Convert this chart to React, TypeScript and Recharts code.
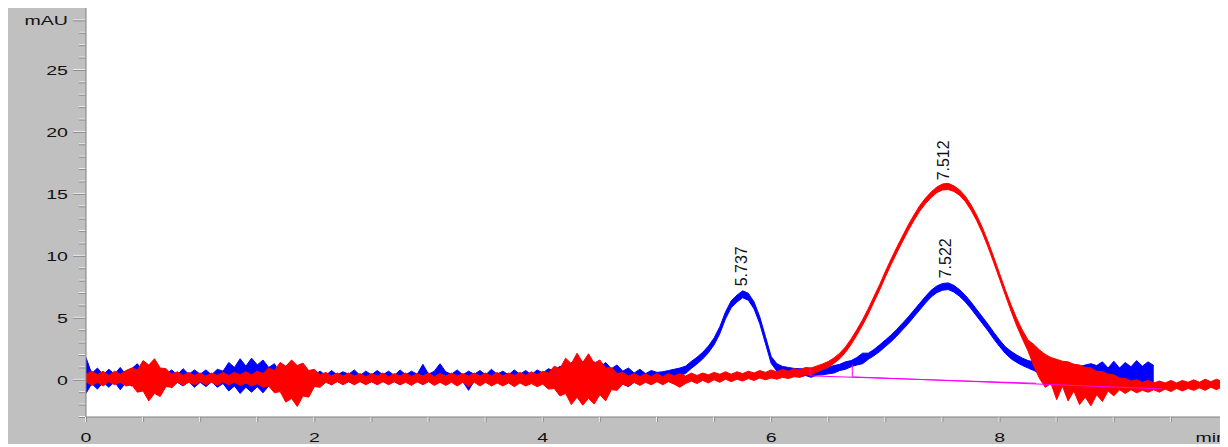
import React from 'react';
import { ComposedChart, Area, Line, XAxis, YAxis, CartesianGrid, ReferenceDot } from 'recharts';

// ---- data (minutes / mAU) ----
const redTime = [
  0, 0.05, 0.1, 0.15, 0.2, 0.25, 0.3, 0.35, 0.4, 0.45, 0.5, 0.55, 0.6, 0.65, 0.7, 0.75, 0.8, 0.85, 0.9, 0.95,
  1, 1.05, 1.1, 1.15, 1.2, 1.25, 1.3, 1.35, 1.4, 1.45, 1.5, 1.55, 1.6, 1.65, 1.7, 1.75, 1.8, 1.85, 1.9, 1.95,
  2, 2.05, 2.1, 2.15, 2.2, 2.25, 2.3, 2.35, 2.4, 2.45, 2.5, 2.55, 2.6, 2.65, 2.7, 2.75, 2.8, 2.85, 2.9, 2.95,
  3, 3.05, 3.1, 3.15, 3.2, 3.25, 3.3, 3.35, 3.4, 3.45, 3.5, 3.55, 3.6, 3.65, 3.7, 3.75, 3.8, 3.85, 3.9, 3.95,
  4, 4.05, 4.1, 4.15, 4.2, 4.25, 4.3, 4.35, 4.4, 4.45, 4.5, 4.55, 4.6, 4.65, 4.7, 4.75, 4.8, 4.85, 4.9, 4.95,
  5, 5.05, 5.1, 5.15, 5.2, 5.25, 5.3, 5.35, 5.4, 5.45, 5.5, 5.55, 5.6, 5.65, 5.7, 5.75, 5.8, 5.85, 5.9, 5.95,
  6, 6.05, 6.1, 6.15, 6.2, 6.25, 6.3, 6.35, 6.4, 6.45, 6.5, 6.55, 6.6, 6.65, 6.7, 6.75, 6.8, 6.85, 6.9, 6.95,
  7, 7.05, 7.1, 7.15, 7.2, 7.25, 7.3, 7.35, 7.4, 7.45, 7.5, 7.55, 7.6, 7.65, 7.7, 7.75, 7.8, 7.85, 7.9, 7.95,
  8, 8.05, 8.1, 8.15, 8.2, 8.25, 8.3, 8.35, 8.4, 8.45, 8.5, 8.55, 8.6, 8.65, 8.7, 8.75, 8.8, 8.85, 8.9, 8.95,
  9, 9.05, 9.1, 9.15, 9.2, 9.25, 9.3, 9.35, 9.4, 9.45, 9.5, 9.55, 9.6, 9.65, 9.7, 9.75, 9.8, 9.85, 9.9, 9.95,
  10,
];
const redLow = [
  -0.15, -0.45, -0.2, -0.5, -0.15, -0.4, -0.2, -0.5, -0.4, -1.0, -0.9, -1.7, -1.1, -1.35, -0.55, -0.6, -0.15, -0.45, -0.2, -0.4,
  -0.15, -0.4, -0.2, -0.45, -0.15, -0.4, -0.2, -0.45, -0.25, -0.5, -0.3, -0.6, -0.5, -1.05, -0.95, -1.8, -1.5, -2.15, -1.3, -1.4,
  -0.55, -0.6, -0.2, -0.4, -0.15, -0.4, -0.15, -0.4, -0.15, -0.4, -0.15, -0.4, -0.15, -0.4, -0.15, -0.4, -0.2, -0.45, -0.15, -0.4,
  -0.15, -0.45, -0.2, -0.45, -0.2, -0.5, -0.2, -0.55, -0.2, -0.5, -0.2, -0.5, -0.25, -0.5, -0.25, -0.55, -0.25, -0.5, -0.3, -0.55,
  -0.35, -0.75, -0.7, -1.3, -1.1, -2.0, -1.4, -2.05, -1.5, -1.95, -1.2, -1.7, -0.8, -0.85, -0.35, -0.5, -0.2, -0.45, -0.2, -0.4,
  -0.15, -0.4, -0.15, -0.35, -0.6, -0.3, -0.1, -0.3, -0.05, -0.25, 0.0, -0.2, 0.05, -0.15, 0.05, -0.1, 0.1, -0.05, 0.15, 0.0,
  0.15, 0.05, 0.2, 0.1, 0.25, 0.2, 0.4, 0.4, 0.62, 0.82, 1.02, 1.33, 1.7, 2.2, 2.85, 3.6, 4.4, 5.3, 6.28, 7.25,
  8.3, 9.3, 10.25, 11.15, 12.05, 12.85, 13.6, 14.2, 14.7, 15.1, 15.32, 15.35, 15.2, 14.88, 14.38, 13.68, 12.83, 11.83, 10.68, 9.43,
  8.13, 6.83, 5.55, 4.35, 3.3, 2.3, 1.1, 0.1, -0.6, -0.3, -1.6, -0.5, -1.7, -0.9, -2.0, -1.4, -2.1, -1.2, -1.75, -0.9,
  -1.3, -0.8, -1.1, -0.8, -1.05, -0.85, -1.0, -0.8, -1.0, -0.75, -0.95, -0.7, -0.9, -0.7, -0.85, -0.65, -0.85, -0.6, -0.8, -0.55,
  -0.75,
];
const redHigh = [
  0.45, 0.7, 0.4, 0.7, 0.35, 0.7, 0.45, 0.75, 0.95, 0.8, 1.55, 1.2, 1.7, 0.95, 0.9, 0.45, 0.65, 0.35, 0.6, 0.35,
  0.55, 0.3, 0.55, 0.35, 0.6, 0.35, 0.6, 0.4, 0.65, 0.4, 0.7, 0.5, 0.95, 0.75, 1.4, 1.1, 1.6, 1.15, 1.35, 0.75,
  0.85, 0.4, 0.6, 0.3, 0.55, 0.3, 0.55, 0.3, 0.5, 0.25, 0.5, 0.3, 0.55, 0.25, 0.5, 0.3, 0.55, 0.25, 0.5, 0.3,
  0.55, 0.25, 0.5, 0.3, 0.55, 0.3, 0.5, 0.3, 0.55, 0.3, 0.55, 0.3, 0.6, 0.3, 0.55, 0.35, 0.6, 0.35, 0.65, 0.4,
  0.7, 0.55, 1.1, 0.9, 1.75, 1.3, 2.15, 1.4, 2.1, 1.35, 1.6, 0.95, 1.0, 0.5, 0.6, 0.3, 0.5, 0.25, 0.5, 0.25,
  0.5, 0.25, 0.5, 0.3, 0.5, 0.3, 0.55, 0.35, 0.55, 0.4, 0.6, 0.45, 0.65, 0.45, 0.65, 0.5, 0.7, 0.55, 0.75, 0.6,
  0.8, 0.65, 0.85, 0.7, 0.9, 0.8, 1.0, 0.95, 1.12, 1.28, 1.48, 1.77, 2.15, 2.65, 3.3, 4.05, 4.85, 5.75, 6.72, 7.7,
  8.75, 9.75, 10.7, 11.6, 12.5, 13.3, 14.05, 14.65, 15.15, 15.55, 15.8, 15.85, 15.65, 15.32, 14.82, 14.12, 13.27, 12.27, 11.12, 9.87,
  8.57, 7.27, 6.05, 4.95, 4.0, 3.2, 2.85, 2.4, 2.05, 1.8, 1.65, 1.5, 1.45, 1.25, 1.2, 1.0, 0.95, 0.7, 0.65, 0.45,
  0.4, 0.15, 0.1, -0.1, 0.0, -0.2, -0.05, -0.25, -0.1, -0.25, -0.05, -0.25, -0.05, -0.2, 0.0, -0.2, 0.05, -0.15, 0.05, -0.15,
  0.05,
];

const blueTime = [
  0, 0.05, 0.1, 0.15, 0.2, 0.25, 0.3, 0.35, 0.4, 0.45, 0.5, 0.55, 0.6, 0.65, 0.7, 0.75, 0.8, 0.85, 0.9, 0.95,
  1, 1.05, 1.1, 1.15, 1.2, 1.25, 1.3, 1.35, 1.4, 1.45, 1.5, 1.55, 1.6, 1.65, 1.7, 1.75, 1.8, 1.85, 1.9, 1.95,
  2, 2.05, 2.1, 2.15, 2.2, 2.25, 2.3, 2.35, 2.4, 2.45, 2.5, 2.55, 2.6, 2.65, 2.7, 2.75, 2.8, 2.85, 2.9, 2.95,
  3, 3.05, 3.1, 3.15, 3.2, 3.25, 3.3, 3.35, 3.4, 3.45, 3.5, 3.55, 3.6, 3.65, 3.7, 3.75, 3.8, 3.85, 3.9, 3.95,
  4, 4.05, 4.1, 4.15, 4.2, 4.25, 4.3, 4.35, 4.4, 4.45, 4.5, 4.55, 4.6, 4.65, 4.7, 4.75, 4.8, 4.85, 4.9, 4.95,
  5, 5.05, 5.1, 5.15, 5.2, 5.25, 5.3, 5.35, 5.4, 5.45, 5.5, 5.55, 5.6, 5.65, 5.7, 5.75, 5.8, 5.85, 5.9, 5.95,
  6, 6.05, 6.1, 6.15, 6.2, 6.25, 6.3, 6.35, 6.4, 6.45, 6.5, 6.55, 6.6, 6.65, 6.7, 6.75, 6.8, 6.85, 6.9, 6.95,
  7, 7.05, 7.1, 7.15, 7.2, 7.25, 7.3, 7.35, 7.4, 7.45, 7.5, 7.55, 7.6, 7.65, 7.7, 7.75, 7.8, 7.85, 7.9, 7.95,
  8, 8.05, 8.1, 8.15, 8.2, 8.25, 8.3, 8.35, 8.4, 8.45, 8.5, 8.55, 8.6, 8.65, 8.7, 8.75, 8.8, 8.85, 8.9, 8.95,
  9, 9.05, 9.1, 9.15, 9.2, 9.25, 9.3, 9.35,
];
const blueLow = [
  -1.1, -0.3, -0.75, -0.2, -0.6, -0.15, -0.8, -0.2, -0.5, -0.15, -0.3, -0.7, -0.2, -0.55, -0.15, -0.65, -0.2, -0.5, -0.15, -0.6,
  -0.2, -0.55, -0.15, -0.6, -0.3, -0.9, -0.5, -1.1, -0.6, -1.0, -0.55, -1.05, -0.5, -0.85, -0.2, -0.5, -0.15, -0.45, -0.15, -0.4,
  -0.15, -0.35, -0.1, -0.4, -0.1, -0.3, -0.15, -0.35, -0.1, -0.3, -0.15, -0.35, -0.1, -0.3, -0.15, -0.4, -0.1, -0.3, -0.15, -0.35,
  -0.1, -0.35, -0.15, -0.3, -0.1, -0.4, -0.15, -0.85, -0.1, -0.35, -0.15, -0.3, -0.1, -0.4, -0.15, -0.35, -0.1, -0.3, -0.15, -0.35,
  -0.2, -0.45, -0.4, -0.8, -0.6, -1.1, -0.7, -1.0, -0.75, -1.15, -0.7, -1.0, -0.55, -0.8, -0.35, -0.55, -0.2, -0.4, -0.15, -0.35,
  0.0, 0.05, 0.15, 0.25, 0.35, 0.5, 0.92, 1.28, 1.68, 2.18, 2.82, 3.72, 4.92, 5.82, 6.27, 6.62, 6.42, 5.72, 4.52, 2.92,
  1.32, 0.7, 0.52, 0.38, 0.4, 0.22, 0.35, 0.2, 0.38, 0.4, 0.48, 0.55, 0.75, 0.85, 1.05, 1.2, 1.3, 1.65, 1.95, 2.28,
  2.68, 3.08, 3.53, 4.03, 4.53, 5.08, 5.63, 6.18, 6.68, 7.03, 7.23, 7.28, 7.08, 6.73, 6.28, 5.73, 5.13, 4.53, 3.93, 3.28,
  2.68, 2.13, 1.7, 1.4, 1.15, 0.95, 0.75, 0.55, 0.5, 0.3, 0.35, 0.1, 0.2, -0.1, 0.05, -0.25, -0.05, -0.4, -0.3, -0.2,
  -0.5, -0.2, -0.45, -0.15, -0.5, -0.25, -0.45, -0.3,
];
const blueHigh = [
  1.8, 0.5, 0.95, 0.4, 0.85, 0.45, 1.0, 0.4, 0.9, 1.3, 0.5, 0.85, 0.4, 0.95, 0.45, 0.8, 0.4, 0.9, 0.45, 0.8,
  0.45, 0.8, 0.4, 0.85, 0.7, 1.4, 1.0, 1.7, 1.1, 1.75, 1.2, 1.6, 1.0, 1.3, 0.5, 0.75, 0.4, 0.7, 0.45, 0.65,
  0.4, 0.7, 0.35, 0.75, 0.4, 0.65, 0.45, 0.8, 0.35, 0.7, 0.4, 0.75, 0.4, 0.7, 0.35, 0.8, 0.4, 0.7, 0.45, 1.25,
  0.45, 0.7, 1.3, 0.65, 0.45, 0.8, 0.4, 0.7, 0.45, 0.75, 0.4, 0.85, 0.45, 0.7, 0.4, 0.8, 0.45, 0.75, 0.4, 0.8,
  0.55, 0.9, 0.7, 1.1, 0.9, 1.4, 1.0, 1.5, 1.05, 1.45, 1.0, 1.4, 0.9, 1.2, 0.7, 0.95, 0.55, 0.85, 0.5, 0.75,
  0.6, 0.65, 0.75, 0.85, 0.95, 1.1, 1.48, 1.82, 2.22, 2.72, 3.38, 4.28, 5.48, 6.38, 6.83, 7.18, 6.98, 6.28, 5.08, 3.48,
  1.88, 1.3, 1.08, 1.0, 0.92, 0.9, 0.85, 0.95, 0.92, 1.0, 1.02, 1.15, 1.25, 1.45, 1.55, 1.8, 2.15, 2.15, 2.45, 2.82,
  3.22, 3.62, 4.07, 4.57, 5.07, 5.62, 6.17, 6.72, 7.22, 7.57, 7.77, 7.82, 7.62, 7.27, 6.82, 6.27, 5.67, 5.07, 4.47, 3.82,
  3.22, 2.67, 2.3, 2.0, 1.75, 1.55, 1.45, 1.4, 1.3, 1.35, 1.2, 1.3, 1.1, 1.25, 1.05, 1.2, 1.3, 1.15, 1.45, 0.95,
  1.5, 0.95, 1.4, 1.05, 1.55, 1.1, 1.45, 1.15,
];

// integration baselines (magenta)
const baseATime = [6.34, 6.34, 8.32];
const baseAValue = [0.89, 0.32, -0.28];
const baseBTime = [6.71, 6.71, 9.42];
const baseBValue = [1.21, 0.24, -0.73];

// peak annotations
const peakTimes = [5.737, 7.512, 7.522];
const peakApex = [7.3, 15.85, 7.95];
const peakLabels = ['5.737', '7.512', '7.522'];

// axes
const xTicks = [0, 0.5, 1, 1.5, 2, 2.5, 3, 3.5, 4, 4.5, 5, 5.5, 6, 6.5, 7, 7.5, 8, 8.5, 9, 9.5, 10];
const xLabelValues = [0, 2, 4, 6, 8, 10];
const xLabelTexts = ['0', '2', '4', '6', '8', 'min'];
const yTicks = [-3, -2, -1, 0, 1, 2, 3, 4, 5, 6, 7, 8, 9, 10, 11, 12, 13, 14, 15, 16, 17, 18, 19, 20, 21, 22, 23, 24, 25, 26, 27, 28, 29];
const yLabelValues = [0, 5, 10, 15, 20, 25, 29];
const yLabelTexts = ['0', '5', '10', '15', '20', '25', 'mAU'];

const redData = redTime.map((t, i) => ({ t, band: [redLow[i], redHigh[i]] }));
const blueData = blueTime.map((t, i) => ({ t, band: [blueLow[i], blueHigh[i]] }));
const baseAData = baseATime.map((t, i) => ({ t, v: baseAValue[i] }));
const baseBData = baseBTime.map((t, i) => ({ t, v: baseBValue[i] }));

const FONT = '"Liberation Sans", Arial, sans-serif';

const YTick = (props: any) => {
  const { x, y, payload } = props;
  const idx = yLabelValues.indexOf(payload.value);
  const major = idx >= 0;
  const len = major ? 12 : 6;
  return (
    <g>
      <line x1={x - len - 1} x2={x - 1} y1={y - 0.5} y2={y - 0.5} stroke="#f2f2f2" strokeWidth={1} />
      <line x1={x - len - 1} x2={x - 1} y1={y + 0.5} y2={y + 0.5} stroke="#8c8c8c" strokeWidth={1} />
      {major && (
        <text
          transform={`translate(${x - 18},${y + 5}) scale(1.45,1)`}
          textAnchor="end"
          fontSize={13.5}
          fontFamily={FONT}
          fill="#111"
        >
          {yLabelTexts[idx]}
        </text>
      )}
    </g>
  );
};

const XTick = (props: any) => {
  const { x, y, payload } = props;
  const idx = xLabelValues.indexOf(payload.value);
  const isLast = payload.value === 10;
  return (
    <g>
      <line x1={x - 0.5} x2={x - 0.5} y1={y} y2={y + 5} stroke="#f2f2f2" strokeWidth={1} />
      <line x1={x + 0.5} x2={x + 0.5} y1={y} y2={y + 5} stroke="#8c8c8c" strokeWidth={1} />
      {idx >= 0 && (
        <text
          transform={`translate(${isLast ? x - 1 : x},${y + 25}) scale(1.45,1)`}
          textAnchor={isLast ? 'end' : 'middle'}
          fontSize={13.5}
          fontFamily={FONT}
          fill="#111"
        >
          {xLabelTexts[idx]}
        </text>
      )}
    </g>
  );
};

const makePeakLabel = (text: string) => (props: any) => {
  const { cx, cy } = props;
  return (
    <text
      transform={`translate(${cx + 5.5},${cy - 3}) rotate(-90)`}
      textAnchor="start"
      fontSize={16}
      fontFamily={FONT}
      fill="#111"
    >
      {text}
    </text>
  );
};

export default function App() {
  return (
    <div style={{ width: 1220, height: 436, background: '#c0c0c0' }}>
      <ComposedChart width={1220} height={436} margin={{ top: 0, right: 0, bottom: 0, left: 0 }}>
        <CartesianGrid horizontal={false} vertical={false} fill="#ffffff" fillOpacity={1} stroke="none" />
        <XAxis
          type="number"
          dataKey="t"
          domain={[0, 10]}
          ticks={xTicks}
          interval={0}
          height={27}
          tickSize={0}
          tickMargin={0}
          tickLine={false}
          axisLine={{ stroke: '#808080' }}
          tick={<XTick />}
          allowDataOverflow
        />
        <YAxis
          type="number"
          domain={[-3, 30]}
          ticks={yTicks}
          interval={0}
          width={78}
          tickSize={0}
          tickMargin={0}
          tickLine={false}
          axisLine={{ stroke: '#808080' }}
          tick={<YTick />}
          allowDataOverflow
        />
        <Area
          data={blueData}
          dataKey="band"
          type="linear"
          stroke="#0000ff"
          strokeWidth={1}
          fill="#0000ff"
          fillOpacity={1}
          dot={false}
          activeDot={false}
          isAnimationActive={false}
        />
        <Area
          data={redData}
          dataKey="band"
          type="linear"
          stroke="#ff0000"
          strokeWidth={1}
          fill="#ff0000"
          fillOpacity={1}
          dot={false}
          activeDot={false}
          isAnimationActive={false}
        />
        <Line
          data={baseAData}
          dataKey="v"
          type="linear"
          stroke="#ff00ff"
          strokeWidth={1}
          dot={false}
          activeDot={false}
          isAnimationActive={false}
        />
        <Line
          data={baseBData}
          dataKey="v"
          type="linear"
          stroke="#ff00ff"
          strokeWidth={1}
          dot={false}
          activeDot={false}
          isAnimationActive={false}
        />
        {peakTimes.map((t, i) => (
          <ReferenceDot
            key={peakLabels[i]}
            x={t}
            y={peakApex[i]}
            r={0}
            ifOverflow="visible"
            shape={makePeakLabel(peakLabels[i])}
          />
        ))}
      </ComposedChart>
    </div>
  );
}
